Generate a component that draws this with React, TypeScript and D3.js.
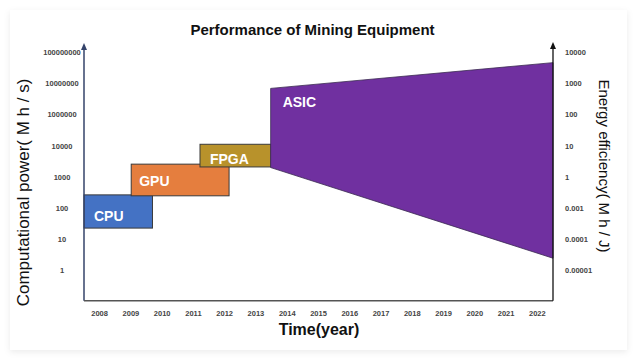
import React from "react";
import * as d3 from "d3";

const years = [2008, 2009, 2010, 2011, 2012, 2013, 2014, 2015, 2016, 2017, 2018, 2019, 2020, 2021, 2022];
const leftTicks = ["1", "10", "100", "1000", "10000", "1000000", "10000000", "100000000"];
const rightTicks = ["0.00001", "0.0001", "0.001", "1", "10", "100", "1000", "10000"];

// rectangular stages: [startYear, endYear, lowLevel, highLevel] (levels = tick index)
const stageNames = ["CPU", "GPU", "FPGA"];
const stageStart = [2007.5, 2009.01, 2011.21];
const stageEnd = [2009.69, 2012.14, 2013.48];
const stageLow = [1.35, 2.39, 3.32];
const stageHigh = [2.42, 3.41, 4.05];
const stageColors = ["#4472c4", "#e57e3e", "#b8922b"];

// ASIC trapezoid
const asicYears = [2013.47, 2022.5];
const asicTop = [5.85, 6.68];
const asicBottom = [3.3, 0.38];
const asicColor = "#7030a0";

const W = 640;
const H = 363;

export default function App() {
  const x = d3.scaleLinear().domain([2007.5, 2022.5]).range([84, 553]);
  const y = d3.scaleLinear().domain([0, 7]).range([270, 52.7]);
  const axisBottom = 300.7;
  const font = "'Liberation Sans', Arial, sans-serif";

  const labelOffsets = [
    [10, -7],
    [8, -10],
    [10, -3],
  ];

  const asicPts: [number, number][] = [
    [x(asicYears[0]), y(asicTop[0])],
    [x(asicYears[1]), y(asicTop[1])],
    [x(asicYears[1]), y(asicBottom[1])],
    [x(asicYears[0]), y(asicBottom[0])],
  ];
  const line = d3.line();

  return (
    <svg width={W} height={H} style={{ position: "absolute", left: 0, top: 0 }} fontFamily={font}>
      <defs>
        <filter id="sh" x="-5%" y="-5%" width="110%" height="115%">
          <feDropShadow dx="0" dy="2" stdDeviation="3" floodColor="#000" floodOpacity="0.08" />
        </filter>
      </defs>
      <rect x={0} y={0} width={W} height={H} fill="#ffffff" />
      <rect x={10} y={10} width={617} height={340} fill="#ffffff" filter="url(#sh)" />

      <text x={312.5} y={35} textAnchor="middle" fontSize={15} fontWeight="bold" fill="#111">
        Performance of Mining Equipment
      </text>

      {stageNames.map((n, i) => (
        <g key={n}>
          <rect
            x={x(stageStart[i])}
            y={y(stageHigh[i])}
            width={x(stageEnd[i]) - x(stageStart[i])}
            height={y(stageLow[i]) - y(stageHigh[i])}
            fill={stageColors[i]}
            stroke="#3a3a3a"
            strokeWidth={1}
          />
        </g>
      ))}
      <path d={line(asicPts) + "Z"} fill={asicColor} stroke="#3a2a50" strokeWidth={0.8} />

      {stageNames.map((n, i) => (
        <text
          key={n + "l"}
          x={x(stageStart[i]) + labelOffsets[i][0]}
          y={y(stageLow[i]) + labelOffsets[i][1]}
          fontSize={14}
          fontWeight="bold"
          fill="#fff"
        >
          {n}
        </text>
      ))}
      <text x={x(asicYears[0]) + 12} y={y(asicTop[0]) + 19} fontSize={14} fontWeight="bold" fill="#fff">
        ASIC
      </text>

      {/* axes */}
      <line x1={84} x2={84} y1={axisBottom} y2={48} stroke="#34436a" strokeWidth={1.5} />
      <path d="M84,43 L81,50 L87,50 Z" fill="#34436a" />
      <line x1={84} x2={553} y1={axisBottom} y2={axisBottom} stroke="#555" strokeWidth={1.5} />
      <line x1={553} x2={553} y1={axisBottom} y2={47} stroke="#111" strokeWidth={1.3} />
      <path d="M553,42 L550,49 L556,49 Z" fill="#111" />

      {leftTicks.map((t, i) => (
        <text key={t} x={62} y={y(i) + 2.7} textAnchor="middle" fontSize={7.5} fontWeight={600} fill="#444">
          {t}
        </text>
      ))}
      {rightTicks.map((t, i) => (
        <text key={t} x={565} y={y(i) + 2.7} textAnchor="start" fontSize={7.5} fontWeight={600} fill="#444">
          {t}
        </text>
      ))}
      {years.map((yr) => (
        <text key={yr} x={x(yr)} y={316} textAnchor="middle" fontSize={7.5} fontWeight={600} fill="#444">
          {yr}
        </text>
      ))}

      <text x={319} y={335} textAnchor="middle" fontSize={16} fontWeight="bold" fill="#111">
        Time(year)
      </text>
      <text transform="translate(29,192.5) rotate(-90)" textAnchor="middle" fontSize={17} fill="#111">
        Computational power( M h / s)
      </text>
      <text transform="translate(599,166) rotate(90)" textAnchor="middle" fontSize={15} fill="#111">
        Energy efficiency( M h / J)
      </text>
    </svg>
  );
}
